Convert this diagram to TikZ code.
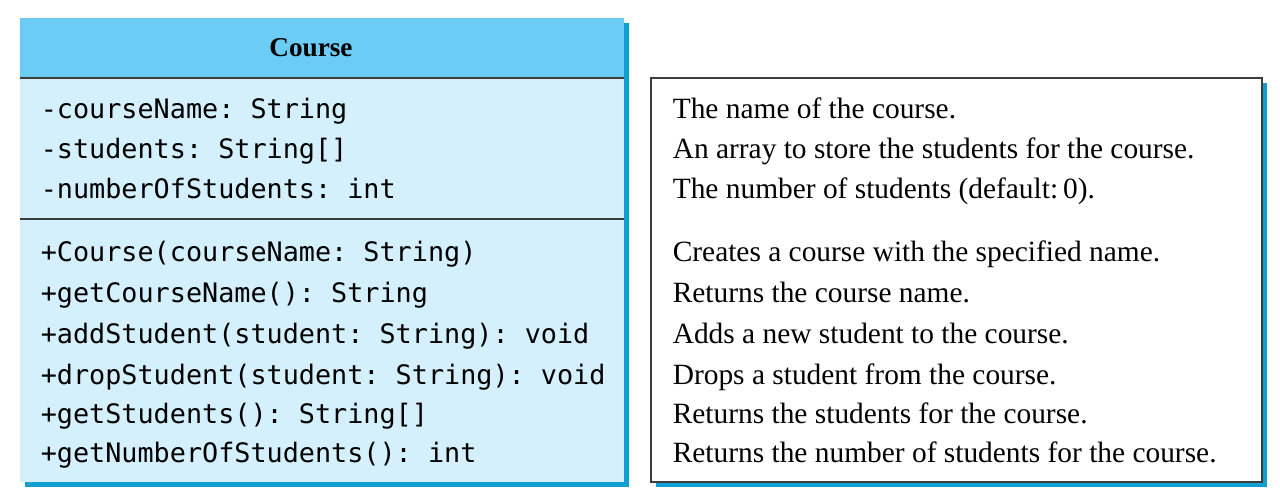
\documentclass[tikz,border=0pt]{standalone}
\usepackage{fontspec}
\setmainfont{Liberation Serif}
\setmonofont{DejaVu Sans Mono}
\usepackage{xcolor}
\definecolor{headcolor}{RGB}{107,205,246}
\definecolor{bodycolor}{RGB}{211,240,252}
\definecolor{shadecolor}{RGB}{14,160,210}
\definecolor{rulecolor}{RGB}{60,60,60}
\usetikzlibrary{calc}

\begin{document}
\begin{tikzpicture}[x=0.5pt,y=-0.5pt,every path/.style={thick},
  member/.style={anchor=west,inner sep=0pt,text height=9pt,text depth=2.5pt,
    font=\ttfamily\fontsize{13.4}{16}\selectfont},
  remark/.style={anchor=west,inner sep=0pt,text height=9pt,text depth=2.5pt,
    font=\fontsize{14.7}{17}\selectfont}]
  \useasboundingbox (0,0) rectangle (1280,499);
  % class box with its shadow
  \fill[shadecolor] (25,23) rectangle (629,487);
  \fill[bodycolor] (20,18) coordinate(c1) rectangle (624,482) coordinate(c2);
  \fill[headcolor] (c1) rectangle (624,78) coordinate(h2);
  \draw[rulecolor] (20,78) -- (h2);
  \draw[rulecolor] (20,219) -- (624,219);
  \node[font=\bfseries\fontsize{13.6}{16}\selectfont] (title) at (311,48) {Course};
  % note box with its shadow
  \fill[shadecolor] (656,83) rectangle (1267,487);
  \draw[rulecolor,fill=white] (651,78) coordinate(n1) rectangle (1262,482) coordinate(n2);
  \foreach \Y/\M/\D [count=\X] in {
    112/{-courseName: String}/{The name of the course.},
    152/{-students: String[]}/{An array to store the students for the course.},
    192/{-numberOfStudents: int}/{The number of students (default:\,0).},
    255/{+Course(courseName: String)}/{Creates a course with the specified name.},
    296/{+getCourseName(): String}/{Returns the course name.},
    337/{+addStudent(student: String): void}/{Adds a new student to the course.},
    378/{+dropStudent(student: String): void}/{Drops a student from the course.},
    417/{+getStudents(): String[]}/{Returns the students for the course.},
    456/{+getNumberOfStudents(): int}/{Returns the number of students for the course.}} {
    \node[member] (m\X) at (40,\Y) {\M};
    \node[remark] (d\X) at (672,\Y) {\D};
  }
\end{tikzpicture}
\end{document}
